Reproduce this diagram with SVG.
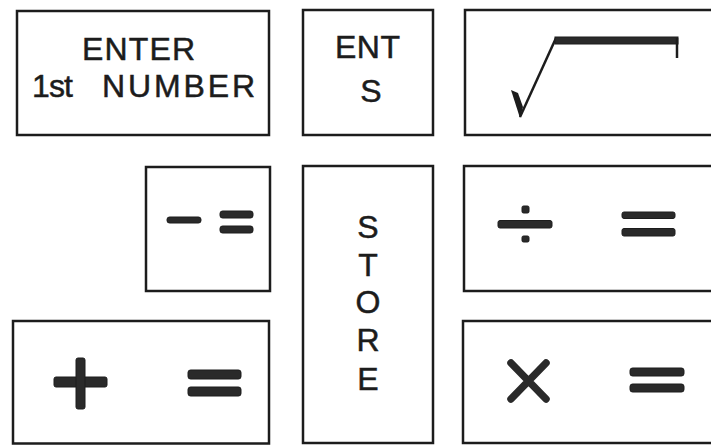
<svg xmlns="http://www.w3.org/2000/svg" width="711" height="445" viewBox="0 0 711 445">
<style>
.box{fill:none;stroke:#1c1c1c;stroke-width:2.5}
.t{font-family:"Liberation Sans",Arial,sans-serif;font-size:32px;fill:#1c1c1c;stroke:#1c1c1c;stroke-width:0.5}
.bar{fill:#2a2a2a;stroke:#1c1c1c;stroke-width:1}
</style>
<rect width="711" height="445" fill="#ffffff"/>
<g id="enter">
<rect class="box" x="17" y="11" width="252" height="124"/>
<text class="t" x="82" y="60" textLength="113" lengthAdjust="spacing">ENTER</text>
<text class="t" x="32" y="97" textLength="41" lengthAdjust="spacing">1st</text>
<text class="t" x="102" y="97" textLength="153" lengthAdjust="spacing">NUMBER</text>
</g>
<g id="ents">
<rect class="box" x="303" y="10" width="130" height="125"/>
<text class="t" x="335" y="58" textLength="65" lengthAdjust="spacing">ENT</text>
<text class="t" x="371" y="102" text-anchor="middle">S</text>
</g>
<g id="sqrt">
<rect class="box" x="465" y="10" width="260" height="125"/>
<polygon points="511,90 518,93 523,107 520,118" fill="#1c1c1c"/>
<polyline points="520,117 556,38" fill="none" stroke="#1c1c1c" stroke-width="2.5"/>
<rect class="bar" x="555" y="37" width="123" height="7"/>
<line x1="677" y1="38" x2="677" y2="58" stroke="#1c1c1c" stroke-width="2.5"/>
</g>
<g id="minus">
<rect class="box" x="146" y="167" width="124" height="124"/>
<rect class="bar" x="167" y="217" width="34" height="6" rx="2.5"/>
<rect class="bar" x="220" y="211" width="33" height="7" rx="2.5"/>
<rect class="bar" x="220" y="226" width="33" height="7" rx="2.5"/>
</g>
<g id="store">
<rect class="box" x="303" y="166" width="130" height="277"/>
<text class="t" x="368" y="238" text-anchor="middle">S</text>
<text class="t" x="368" y="276" text-anchor="middle">T</text>
<text class="t" x="368" y="313" text-anchor="middle">O</text>
<text class="t" x="368" y="351" text-anchor="middle">R</text>
<text class="t" x="368" y="390" text-anchor="middle">E</text>
</g>
<g id="divide">
<rect class="box" x="464" y="166" width="260" height="125"/>
<rect class="bar" x="498" y="220.5" width="54" height="7.5" rx="2"/>
<rect class="bar" x="522" y="206" width="7" height="7" rx="1.5"/>
<rect class="bar" x="522" y="236" width="7" height="6" rx="1.5"/>
<rect class="bar" x="622" y="212" width="53" height="6.5" rx="2"/>
<rect class="bar" x="622" y="228.5" width="53" height="7.5" rx="2"/>
</g>
<g id="plus">
<rect class="box" x="13" y="321" width="256" height="122.5"/>
<rect class="bar" x="54" y="377" width="53" height="10" rx="2"/>
<rect class="bar" x="76" y="358" width="9" height="51" rx="2"/>
<rect class="bar" x="188" y="370" width="53" height="9" rx="2.5"/>
<rect class="bar" x="188" y="387" width="53" height="9" rx="2.5"/>
</g>
<g id="times">
<rect class="box" x="463" y="321" width="260" height="122"/>
<path d="M511,363 L546,399 M546,363 L511,399" stroke="#2a2a2a" stroke-width="7.5" stroke-linecap="round"/>
<rect class="bar" x="630" y="368" width="54" height="8" rx="2.5"/>
<rect class="bar" x="630" y="384" width="54" height="8" rx="2.5"/>
</g>
<g id="connectors"/>
</svg>
